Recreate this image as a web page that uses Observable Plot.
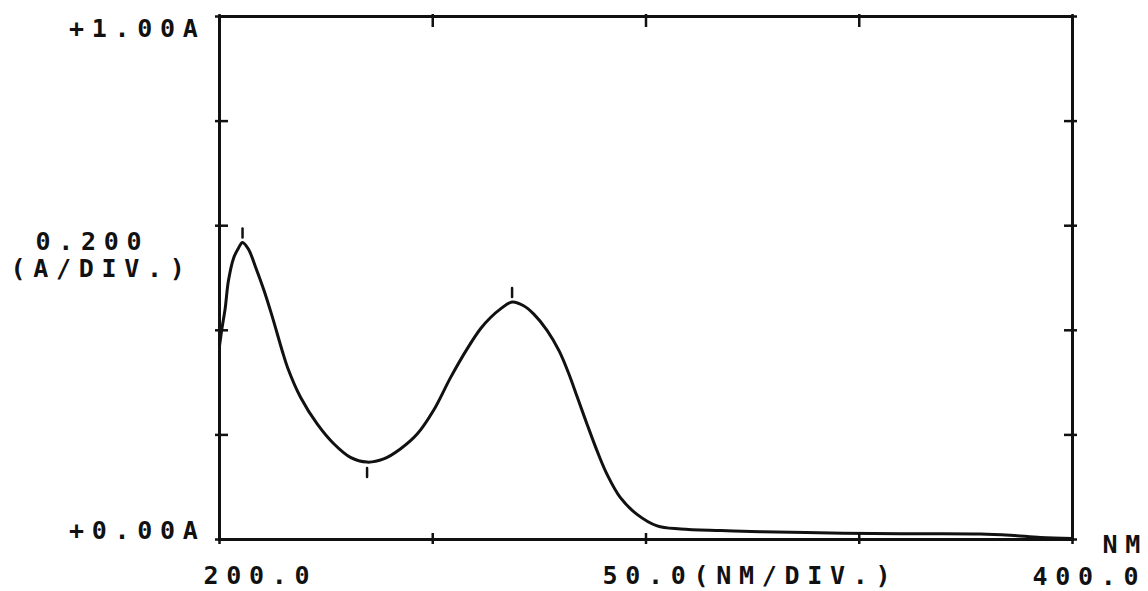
<!DOCTYPE html>
<html><head><meta charset="utf-8">
<script src="https://cdn.jsdelivr.net/npm/d3@7"></script>
<script src="https://cdn.jsdelivr.net/npm/@observablehq/plot@0.6"></script>
<style>html,body{margin:0;padding:0;background:#fff;}</style>
</head><body><div id="chart"></div>
<script>
// Spectrum (wavelength in nm, absorbance in A)
const wavelength = [200.0, 200.6, 201.3, 202.1, 203.3, 204.5, 205.4, 206.8, 208.4, 210.4, 212.3, 214.7, 216.0, 219.0, 222.9, 226.8, 230.7, 234.6, 238.5, 242.4, 246.4, 250.2, 254.2, 258.1, 261.2, 263.5, 265.9, 268.6, 271.3, 273.7, 276.8, 279.6, 281.9, 283.9, 286.2, 288.6, 290.9, 294.0, 297.9, 302.6, 308.1, 317.5, 326.8, 346.3, 359.7, 378.4, 385.5, 392.5, 400.0];
const absorbance = [0.370, 0.405, 0.440, 0.495, 0.538, 0.558, 0.568, 0.555, 0.522, 0.477, 0.428, 0.361, 0.328, 0.272, 0.221, 0.183, 0.157, 0.148, 0.154, 0.173, 0.202, 0.247, 0.310, 0.365, 0.403, 0.424, 0.441, 0.454, 0.447, 0.431, 0.400, 0.361, 0.317, 0.272, 0.220, 0.168, 0.124, 0.080, 0.048, 0.026, 0.020, 0.017, 0.015, 0.012, 0.011, 0.0105, 0.008, 0.004, 0.002];
const peakWavelengths = [205.4, 268.6];
const troughWavelengths = [234.6];
const xTicks = [200, 250, 300, 350, 400];
const yTicks = [0, 0.2, 0.4, 0.6, 0.8, 1.0];
const yTopLabel = ["+1.00A"];
const yBottomLabel = ["+0.00A"];
const yScaleLabel = ["0.200"];
const yUnitLabel = ["(A/DIV.)"];
const xStartLabel = ["200.0"];
const xScaleLabel = ["50.0(NM/DIV.)"];
const xEndLabel = ["400.0"];
const xUnitLabel = ["NM"];

const spectrum = wavelength.map((nm, i) => ({nm, a: absorbance[i]}));
const peaks = peakWavelengths.map(nm => ({nm, a: absorbance[wavelength.indexOf(nm)]}));
const troughs = troughWavelengths.map(nm => ({nm, a: absorbance[wavelength.indexOf(nm)]}));

const ink = "#111";
const barShape = {draw(context, l) { context.moveTo(0, 0); context.lineTo(0, -l); }};
const noText = () => "";
const txt = {fill: ink, fontSize: 25, fontWeight: "bold", fontFamily: "DejaVu Sans Mono"};

const chart = Plot.plot({
  width: 1148,
  height: 591,
  marginLeft: 219,
  marginRight: 76,
  marginTop: 16,
  marginBottom: 52,
  x: {domain: [200, 400]},
  y: {domain: [0, 1]},
  style: {fontFamily: "DejaVu Sans Mono", fontSize: "25px", fontWeight: "bold", letterSpacing: "7.7px", background: "#fff", color: ink},
  marks: [
    Plot.frame({stroke: ink, strokeWidth: 3}),
    Plot.axisX(xTicks, {anchor: "bottom", tickSize: 11, dy: -6, strokeWidth: 2.5, stroke: ink, tickFormat: noText, label: null}),
    Plot.axisX(xTicks, {anchor: "top", tickSize: 13, dy: 10, strokeWidth: 2.5, stroke: ink, tickFormat: noText, label: null}),
    Plot.axisY(yTicks, {anchor: "left", tickSize: 13, dx: 9, strokeWidth: 2.5, stroke: ink, tickFormat: noText, label: null}),
    Plot.axisY(yTicks, {anchor: "right", tickSize: 13, dx: -9, strokeWidth: 2.5, stroke: ink, tickFormat: noText, label: null}),
    Plot.line(spectrum, {x: "nm", y: "a", stroke: ink, strokeWidth: 3, curve: "catmull-rom", strokeLinejoin: "round"}),
    Plot.vector(peaks, {x: "nm", y: "a", length: 9, rotate: 0, anchor: "start", dy: -5, shape: barShape, stroke: ink, strokeWidth: 2.5}),
    Plot.vector(troughs, {x: "nm", y: "a", length: 9, rotate: 180, anchor: "start", dy: 6, shape: barShape, stroke: ink, strokeWidth: 2.5}),
    Plot.text(yTopLabel, {text: d => d, frameAnchor: "top-left", textAnchor: "end", lineAnchor: "middle", dx: -14, dy: 12, ...txt}),
    Plot.text(yBottomLabel, {text: d => d, frameAnchor: "bottom-left", textAnchor: "end", lineAnchor: "middle", dx: -14, dy: -9, ...txt}),
    Plot.text(yScaleLabel, {text: d => d, frameAnchor: "top-left", textAnchor: "start", lineAnchor: "middle", dx: -184, dy: 225, ...txt}),
    Plot.text(yUnitLabel, {text: d => d, frameAnchor: "top-left", textAnchor: "start", lineAnchor: "middle", dx: -209, dy: 252, ...txt}),
    Plot.text(xStartLabel, {text: d => d, frameAnchor: "bottom-left", textAnchor: "start", lineAnchor: "middle", dx: -16, dy: 36, ...txt}),
    Plot.text(xScaleLabel, {text: d => d, frameAnchor: "bottom-left", textAnchor: "start", lineAnchor: "middle", dx: 383, dy: 36, ...txt}),
    Plot.text(xEndLabel, {text: d => d, frameAnchor: "bottom-right", textAnchor: "start", lineAnchor: "middle", dx: -40, dy: 37, ...txt}),
    Plot.text(xUnitLabel, {text: d => d, frameAnchor: "bottom-right", textAnchor: "start", lineAnchor: "middle", dx: 30, dy: 5, ...txt})
  ]
});
document.getElementById("chart").append(chart);
</script>
</body></html>
